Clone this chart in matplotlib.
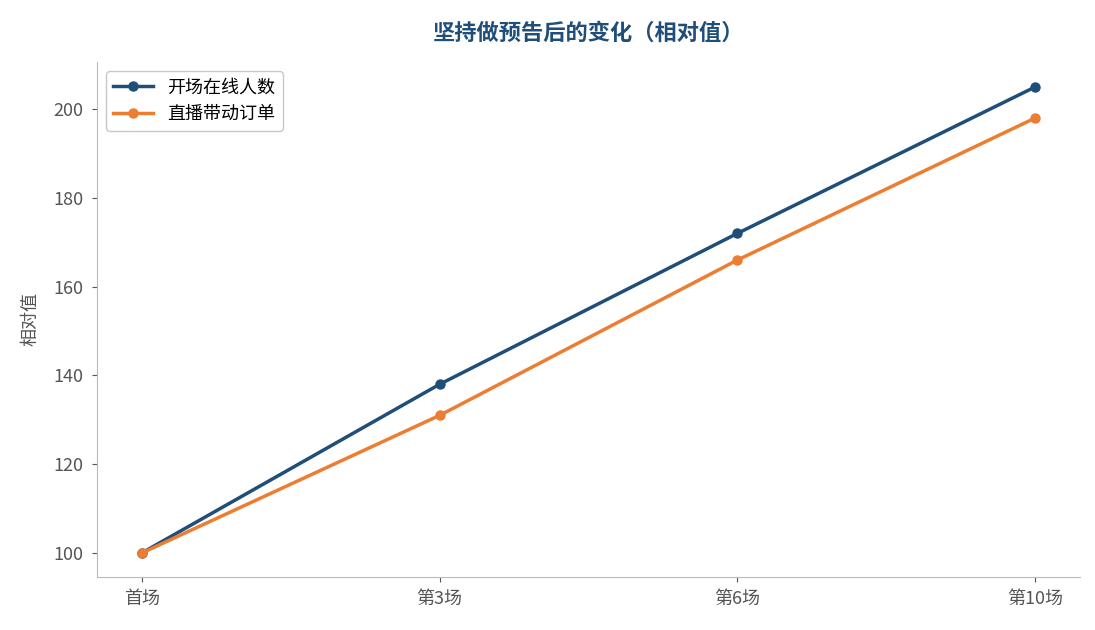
import matplotlib
matplotlib.use("Agg")
import matplotlib.pyplot as plt

plt.rcParams['font.family'] = ['Noto Sans CJK SC', 'DejaVu Sans']

labels = ['首场', '第3场', '第6场', '第10场']
online = [100, 138, 172, 205]
orders = [100, 131, 166, 198]

fig = plt.figure(figsize=(10.95, 6.3), dpi=100)
ax = fig.add_axes([97/1095, 1-577/630, (1080-97)/1095, (577-62)/630])

x = range(len(labels))
ax.plot(x, online, '-o', color='#1f4e79', lw=2.5, ms=6.5, label='开场在线人数')
ax.plot(x, orders, '-o', color='#ed7d31', lw=2.5, ms=6.5, label='直播带动订单')

ax.set_xticks(list(x))
ax.set_xticklabels(labels)
ax.set_xlim(-0.15, 3.15)
ax.set_ylim(94.6, 210.6)
ax.set_yticks([100, 120, 140, 160, 180, 200])
ax.set_ylabel('相对值', fontsize=13, color='#555555', labelpad=10)
ax.tick_params(labelsize=13, colors='#555555', pad=6)
for s in ['top', 'right']:
    ax.spines[s].set_visible(False)
for s in ['left', 'bottom']:
    ax.spines[s].set_color('#bbbbbb')

ax.set_title('坚持做预告后的变化（相对值）', fontsize=16, fontweight='bold',
             color='#1f4e79', pad=16)
leg = ax.legend(loc='upper left', fontsize=13, handlelength=2.2)
leg.get_frame().set_edgecolor('#bbbbbb')

fig.savefig('out.png', dpi=100)
